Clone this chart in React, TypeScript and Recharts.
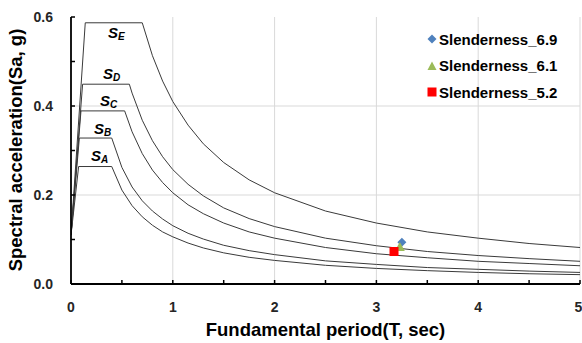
import { ComposedChart, Line, Scatter, XAxis, YAxis, ReferenceLine, ReferenceDot, Legend } from "recharts";

// period grid (sec) shared by the five design spectra
const periods = [0, 0.075, 0.082, 0.098, 0.114, 0.14, 0.4, 0.5, 0.527, 0.573, 0.6, 0.7, 0.8, 0.9, 1.0, 1.15, 1.3, 1.5, 1.75, 2.0, 2.5, 3.0, 3.5, 4.0, 4.5, 5.0];

const sA = [0.11, 0.264, null, null, null, null, 0.264, 0.211, null, null, 0.176, 0.151, 0.132, 0.117, 0.106, 0.092, 0.081, 0.07, 0.06, 0.053, 0.042, 0.035, 0.03, 0.026, 0.023, 0.021];
const sB = [0.11, null, 0.328, null, null, null, 0.328, 0.262, null, null, 0.218, 0.187, 0.164, 0.146, 0.131, 0.114, 0.101, 0.087, 0.075, 0.066, 0.052, 0.044, 0.037, 0.033, 0.029, 0.026];
const sC = [0.11, null, null, 0.389, null, null, null, null, 0.389, null, 0.342, 0.293, 0.256, 0.228, 0.205, 0.178, 0.158, 0.137, 0.117, 0.103, 0.082, 0.068, 0.059, 0.051, 0.046, 0.041];
const sD = [0.11, null, null, null, 0.449, null, null, null, null, 0.449, 0.429, 0.368, 0.322, 0.286, 0.257, 0.224, 0.198, 0.171, 0.147, 0.129, 0.103, 0.086, 0.073, 0.064, 0.057, 0.051];
const sE = [0.11, null, null, null, null, 0.587, null, null, null, null, null, 0.587, 0.513, 0.456, 0.41, 0.357, 0.315, 0.273, 0.234, 0.205, 0.164, 0.137, 0.117, 0.103, 0.091, 0.082];

// building results (T, Sa)
const slender69 = [{ t: 3.25, sa: 0.094 }];
const slender61 = [{ t: 3.23, sa: 0.083 }];
const slender52 = [{ t: 3.173, sa: 0.073 }];
const legendOrder = ["Slenderness_6.9", "Slenderness_6.1", "Slenderness_5.2"];

const xTicks = [0, 0.5, 1, 1.5, 2, 2.5, 3, 3.5, 4, 4.5, 5];
const yTicks = [0, 0.1, 0.2, 0.3, 0.4, 0.5, 0.6];

// curve name labels: [subscript, T, Sa]
const curveLabels: [string, number, number][] = [
  ["E", 0.363, 0.553],
  ["D", 0.314, 0.461],
  ["C", 0.285, 0.4],
  ["B", 0.226, 0.337],
  ["A", 0.196, 0.276],
];

const data = periods.map((t, i) => ({ t, sA: sA[i], sB: sB[i], sC: sC[i], sD: sD[i], sE: sE[i] }));

const FONT = "'Liberation Sans', Arial, sans-serif";
const LINE = "#3a3a3a";
const tickStyle = { fontSize: 14, fontWeight: "bold", fill: "#262626", fontFamily: FONT };

function CurveLabel({ viewBox, sub }: any) {
  const x = viewBox.x + viewBox.width / 2;
  const y = viewBox.y + viewBox.height / 2;
  return (
    <text x={x} y={y} fontFamily={FONT} fontStyle="italic" fontWeight="bold" fontSize={15} fill="#000">
      S<tspan fontSize={10} dy={2}>{sub}</tspan>
    </text>
  );
}

function YTitle() {
  return (
    <text transform="translate(22,150) rotate(-90)" textAnchor="middle" fontFamily={FONT} fontWeight="bold" fontSize={18.5} fill="#000">
      Spectral acceleration(Sa, g)
    </text>
  );
}

const Diamond = (p: any) => <path d={`M${p.cx},${p.cy - 4.5}L${p.cx + 4.5},${p.cy}L${p.cx},${p.cy + 4.5}L${p.cx - 4.5},${p.cy}Z`} fill={p.fill} />;
const Triangle = (p: any) => <path d={`M${p.cx},${p.cy - 5}L${p.cx + 5},${p.cy + 4}L${p.cx - 5},${p.cy + 4}Z`} fill={p.fill} />;
const Square = (p: any) => <rect x={p.cx - 4.5} y={p.cy - 4.5} width={9} height={9} fill={p.fill} />;

function LegendIcon({ type, color }: { type: string; color: string }) {
  return (
    <svg width={10} height={10} style={{ marginRight: 2, flex: "none" }}>
      {type === "diamond" && <path d="M5,0.5L9.5,5L5,9.5L0.5,5Z" fill={color} />}
      {type === "triangle" && <path d="M5,0.5L9.5,9L0.5,9Z" fill={color} />}
      {type === "square" && <rect x={0.5} y={0.5} width={9} height={9} fill={color} />}
    </svg>
  );
}

const renderLegend = (props: any) => {
  const items = (props.payload || [])
    .filter((e: any) => e.type !== "none" && legendOrder.includes(e.value))
    .sort((a: any, b: any) => legendOrder.indexOf(a.value) - legendOrder.indexOf(b.value));
  return (
    <div style={{ fontFamily: FONT, fontWeight: "bold", fontSize: 15, color: "#000" }}>
      {items.map((e: any) => (
        <div key={e.value} style={{ display: "flex", alignItems: "center", height: 26.5 }}>
          <LegendIcon type={e.type} color={e.color} />
          <span>{e.value}</span>
        </div>
      ))}
    </div>
  );
};

export default function App() {
  return (
    <div style={{ position: "absolute", left: 0, top: 0, background: "#fff" }}>
      <ComposedChart width={582} height={343} data={data} margin={{ top: 17, right: 2, bottom: 0, left: 0 }}>
        <XAxis
          dataKey="t"
          type="number"
          domain={[0, 5]}
          ticks={xTicks}
          allowDataOverflow
          height={59}
          tickSize={-4}
          tickMargin={22}
          tick={tickStyle}
          tickFormatter={(v: number) => (Number.isInteger(v) ? String(v) : "")}
          axisLine={{ stroke: "#000", strokeWidth: 1.8 }}
          tickLine={{ stroke: "#000", strokeWidth: 1.5 }}
          label={{ value: "Fundamental period(T, sec)", position: "insideBottom", offset: 7, style: { fontSize: 18.5, fontWeight: "bold", fill: "#000", fontFamily: FONT } }}
        />
        <YAxis
          type="number"
          domain={[0, 0.6]}
          ticks={yTicks}
          allowDataOverflow
          width={71}
          tickSize={-4}
          tickMargin={22}
          tick={tickStyle}
          tickFormatter={(v: number) => (Math.round(v * 10) % 2 === 0 ? v.toFixed(1) : "")}
          axisLine={{ stroke: "#000", strokeWidth: 1.8 }}
          tickLine={{ stroke: "#000", strokeWidth: 1.5 }}
          label={<YTitle />}
        />
        {[1, 2, 3, 4, 5].map((x) => (
          <ReferenceLine key={`gx${x}`} x={x} stroke="#d9d9d9" strokeWidth={1} />
        ))}
        {[0.2, 0.4].map((y) => (
          <ReferenceLine key={`gy${y}`} y={y} stroke="#d9d9d9" strokeWidth={1} />
        ))}
        {["sA", "sB", "sC", "sD", "sE"].map((k) => (
          <Line key={k} dataKey={k} type="linear" stroke={LINE} strokeWidth={1} dot={false} activeDot={false} connectNulls legendType="none" isAnimationActive={false} />
        ))}
        <Scatter name="Slenderness_6.9" data={slender69} dataKey="sa" fill="#4f81bd" legendType="diamond" shape={Diamond} isAnimationActive={false} />
        <Scatter name="Slenderness_6.1" data={slender61} dataKey="sa" fill="#9bbb59" legendType="triangle" shape={Triangle} isAnimationActive={false} />
        <Scatter name="Slenderness_5.2" data={slender52} dataKey="sa" fill="#ff0000" legendType="square" shape={Square} isAnimationActive={false} />
        {curveLabels.map(([sub, x, y]) => (
          <ReferenceDot key={sub} x={x} y={y} r={1} fill="none" stroke="none" label={<CurveLabel sub={sub} />} />
        ))}
        <Legend
          layout="vertical"
          align="center"
          verticalAlign="middle"
          content={renderLegend}
          wrapperStyle={{ left: 427, top: 26, width: 160, height: 80 }}
        />
      </ComposedChart>
    </div>
  );
}
